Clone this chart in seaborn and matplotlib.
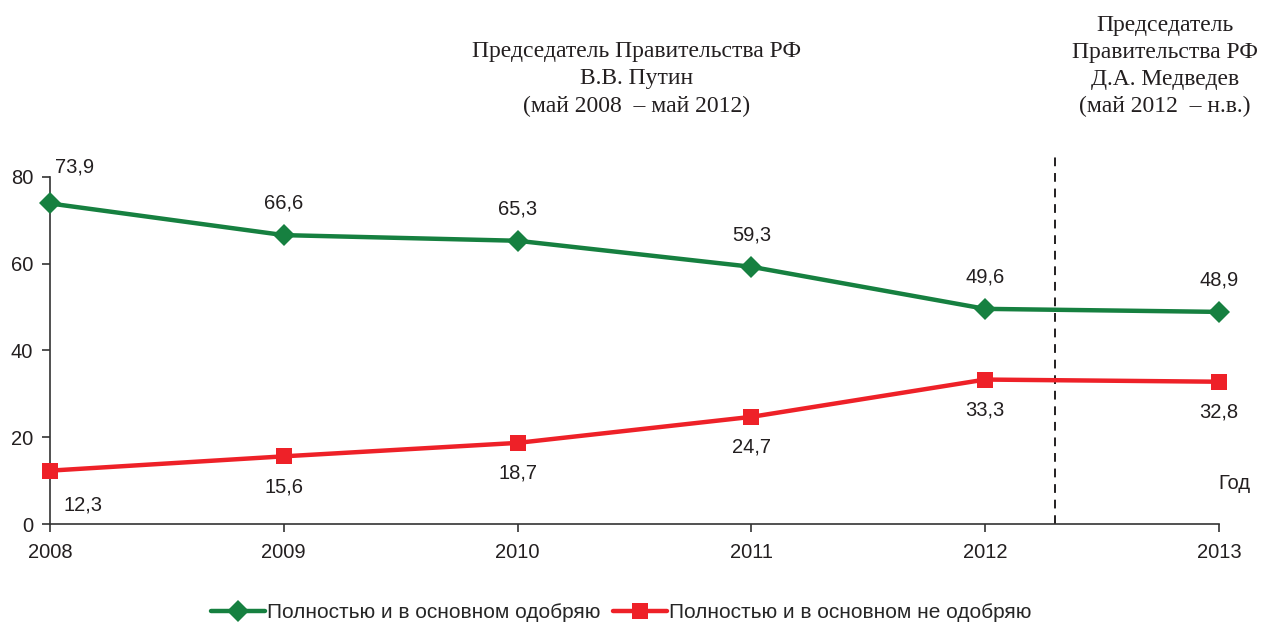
import matplotlib
matplotlib.use("Agg")
import matplotlib.pyplot as plt
import seaborn as sns
import pandas as pd

# --- данные ---
years = [2008, 2009, 2010, 2011, 2012, 2013]
approve = [73.9, 66.6, 65.3, 59.3, 49.6, 48.9]
disapprove = [12.3, 15.6, 18.7, 24.7, 33.3, 32.8]
series_names = ["Полностью и в основном одобряю", "Полностью и в основном не одобряю"]
y_ticks = [0, 20, 40, 60, 80]
change_year = 2012.3  # смена председателя (май 2012)

GREEN = "#168040"
RED = "#ee2128"
TXT = "#231f20"

sns.set_theme(style="white")
plt.rcParams["font.family"] = ["Liberation Sans", "DejaVu Sans"]

df = pd.DataFrame({
    "year": years * 2,
    "value": approve + disapprove,
    "series": [series_names[0]] * len(years) + [series_names[1]] * len(years),
})

fig = plt.figure(figsize=(12.7, 6.26), dpi=100)
ax = fig.add_axes([50 / 1270, 102 / 626, 1169 / 1270, 347 / 626])

sns.lineplot(
    data=df, x="year", y="value", hue="series", style="series",
    palette=[GREEN, RED], markers=["D", "s"], dashes=False,
    linewidth=3.2, markersize=11, markeredgewidth=0, ax=ax, legend=True,
)
for ln in ax.lines:
    ln.set_clip_on(False)
    ln.set_zorder(5)

ax.set_xlim(2008, 2013)
ax.set_ylim(0, 80)
ax.set_xticks(years)
ax.set_yticks(y_ticks)
ax.set_xlabel("")
ax.set_ylabel("")
for s in ["top", "right"]:
    ax.spines[s].set_visible(False)
for s in ["left", "bottom"]:
    ax.spines[s].set_color("#333333")
    ax.spines[s].set_linewidth(1.2)
ax.tick_params(axis="both", which="both", direction="out", length=6, width=1.2,
               color="#333333", labelsize=14.5, labelcolor=TXT, bottom=True, left=True)
ax.tick_params(axis="x", pad=8)
ax.tick_params(axis="y", pad=6)

# подписи значений
for i, (x, v) in enumerate(zip(years, approve)):
    off = (18, 26) if i == 0 else (0, 23)
    ax.annotate(f"{v}".replace(".", ","), (x, v), xytext=off, textcoords="offset points",
                ha="center", va="center", fontsize=14.5, color=TXT, annotation_clip=False)
for i, (x, v) in enumerate(zip(years, disapprove)):
    off = (24, -25) if i == 0 else (0, -22)
    ax.annotate(f"{v}".replace(".", ","), (x, v), xytext=off, textcoords="offset points",
                ha="center", va="center", fontsize=14.5, color=TXT)

ax.text(1.027, 0.118, "Год", transform=ax.transAxes, ha="right", va="center",
        fontsize=14.5, color=TXT)

# граница периодов
ax.plot([change_year, change_year], [0, 85.8], color=TXT, linestyle=(0, (4.5, 3.5)),
        linewidth=1.4, clip_on=False)

serif = ["Liberation Serif", "DejaVu Serif"]
fig.text(637 / 1270, 1 - 79 / 626,
         "Председатель Правительства РФ\nВ.В. Путин\n(май 2008  – май 2012)",
         ha="center", va="center", fontsize=17, family=serif, color=TXT, linespacing=1.38)
fig.text(1165 / 1270, 1 - 66 / 626,
         "Председатель\nПравительства РФ\nД.А. Медведев\n(май 2012  – н.в.)",
         ha="center", va="center", fontsize=17, family=serif, color=TXT, linespacing=1.38)

handles, labels = ax.get_legend_handles_labels()
ax.legend(handles, labels, loc="center", bbox_to_anchor=(621 / 1270, 1 - 613 / 626),
          bbox_transform=fig.transFigure, ncol=2, frameon=False, handlelength=2.6,
          handletextpad=0.1, columnspacing=0.6,
          prop={"family": ["Liberation Sans Narrow", "Liberation Sans"], "size": 15})

fig.savefig("out.png", dpi=100)
